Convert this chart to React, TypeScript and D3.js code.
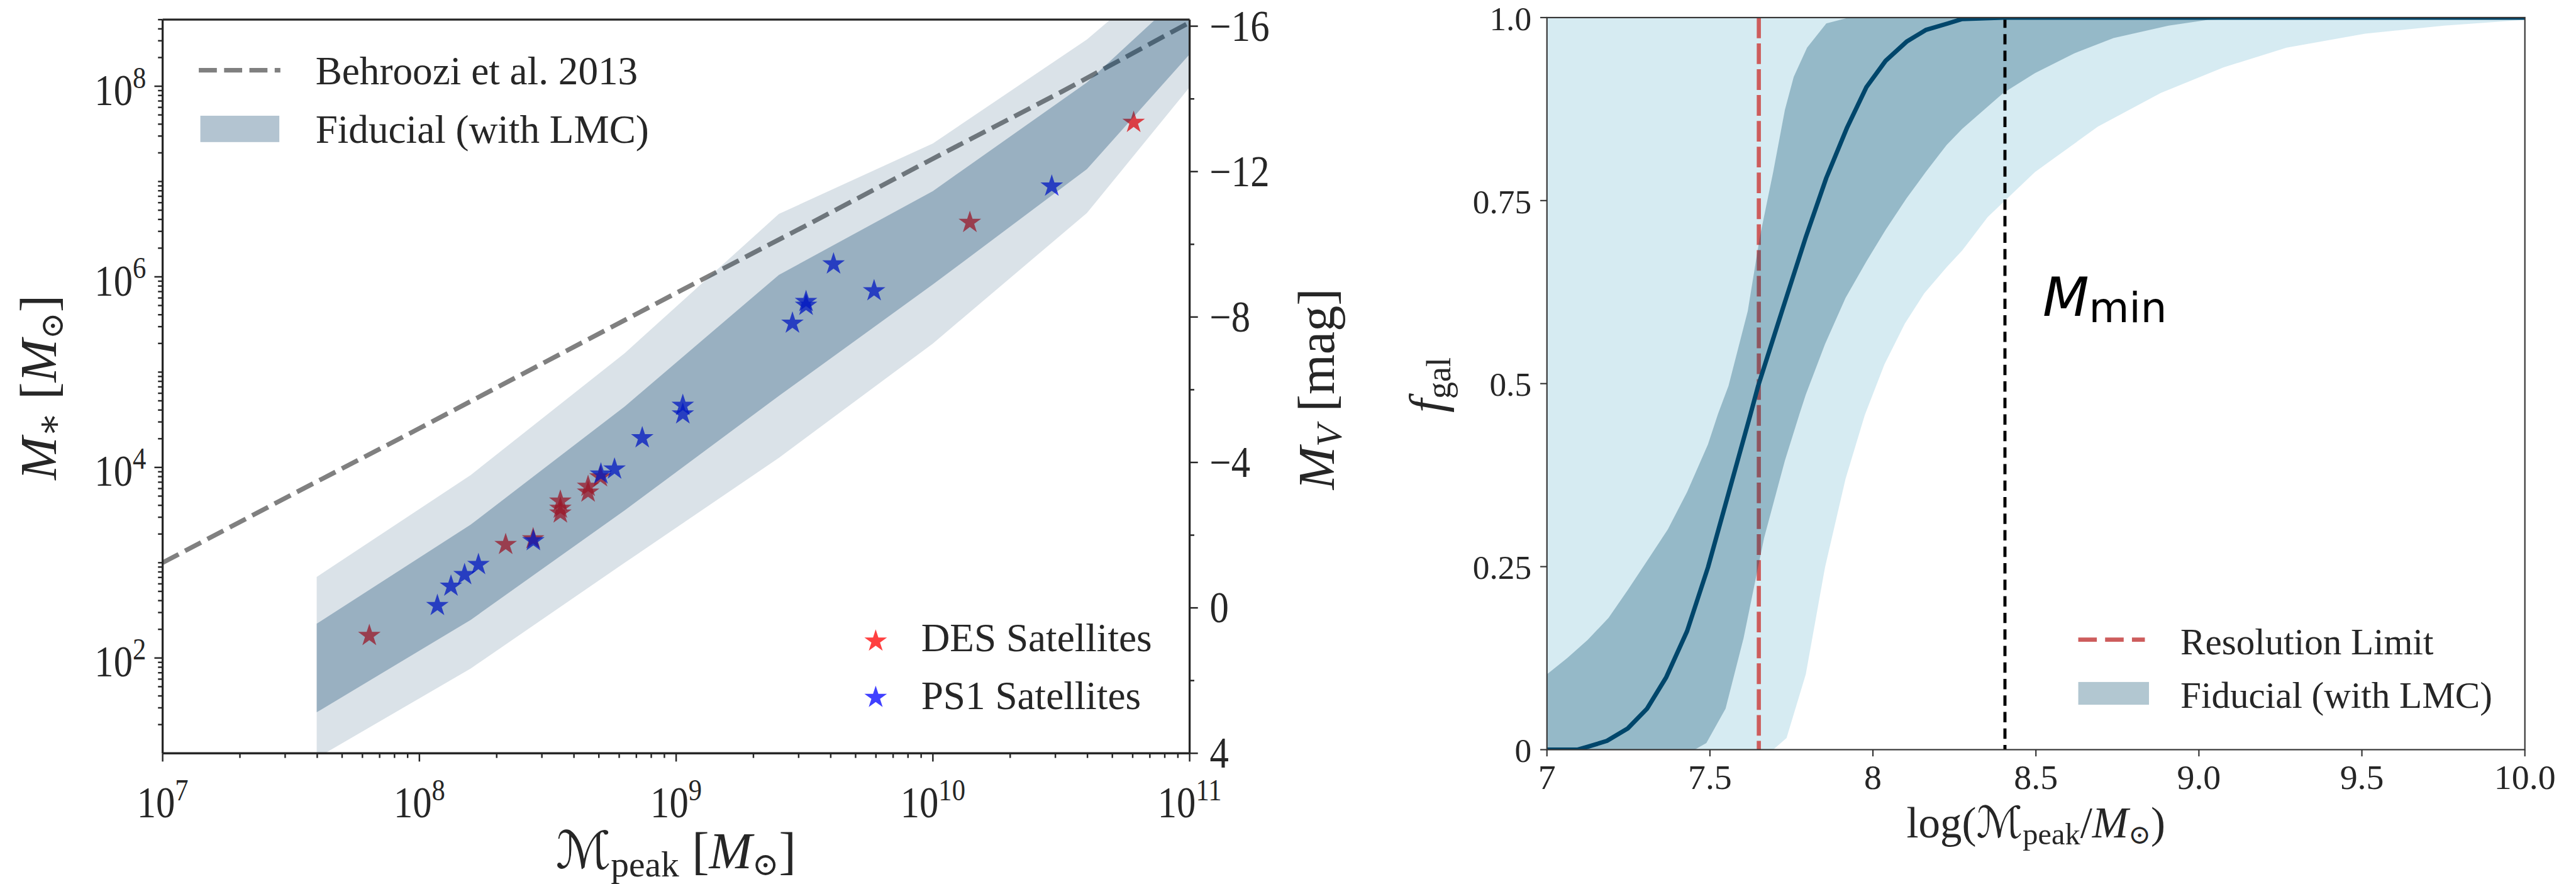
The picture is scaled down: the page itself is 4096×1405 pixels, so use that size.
import React from 'react';
import * as d3 from 'd3';

// ---------------- Left panel data (log10 values) ----------------
const behrooziLogMpeak = [7.0, 7.5, 8.0, 8.5, 9.0, 9.5, 10.0, 10.5, 11.0];
const behrooziLogMstar = [3.0, 3.71, 4.41, 5.12, 5.83, 6.53, 7.24, 7.94, 8.67];

const bandLogMpeak = [7.6, 8.2, 8.8, 9.4, 10.0, 10.6, 11.2];
const outerLogLo = [0.95, 1.89, 3.0, 4.1, 5.3, 6.67, 8.65];
const outerLogHi = [2.85, 3.92, 5.2, 6.66, 7.4, 8.49, 9.87];
const innerLogLo = [1.43, 2.4, 3.55, 4.75, 5.92, 7.13, 8.94];
const innerLogHi = [2.36, 3.4, 4.64, 6.02, 6.9, 8.04, 9.53];

const desLogMpeak = [7.805, 8.336, 8.443, 8.549, 8.549, 8.549, 8.657, 8.657, 8.705, 10.144, 10.782];
const desLogMstar = [2.235, 3.19, 3.25, 3.645, 3.57, 3.52, 3.8, 3.74, 3.9, 6.57, 7.62];
const ps1LogMpeak = [8.07, 8.123, 8.176, 8.23, 8.444, 8.707, 8.76, 8.868, 9.026, 9.026, 9.453, 9.506, 9.506, 9.613, 9.771, 10.463];
const ps1LogMstar = [2.55, 2.753, 2.874, 2.98, 3.23, 3.93, 3.982, 4.31, 4.65, 4.56, 5.513, 5.74, 5.7, 6.134, 5.853, 6.951];

const leftXTickExps = [7, 8, 9, 10, 11];
const leftYTickExps = [2, 4, 6, 8];
const mvTicks = [4, 0, -4, -8, -12, -16];
const mvTickLabels = ['4', '0', '\u22124', '\u22128', '\u221212', '\u221216'];
const mvMinorTicks = [2, -2, -6, -10, -14];

// ---------------- Right panel data ----------------
const meanX = [7.0, 7.093, 7.125, 7.184, 7.248, 7.307, 7.366, 7.43, 7.494, 7.557, 7.625, 7.648, 7.721, 7.794, 7.857, 7.921, 7.98, 8.039, 8.103, 8.162, 8.23, 8.274, 8.4, 10.0];
const meanF = [0, 0, 0.004, 0.012, 0.029, 0.056, 0.099, 0.162, 0.249, 0.35, 0.459, 0.497, 0.599, 0.7, 0.781, 0.85, 0.905, 0.941, 0.967, 0.983, 0.992, 0.998, 1.0, 1.0];

const innerHiX = [7.0, 7.062, 7.125, 7.189, 7.248, 7.312, 7.371, 7.43, 7.494, 7.525, 7.557, 7.616, 7.653, 7.694, 7.73, 7.757, 7.798, 7.857, 7.926];
const innerHiF = [0.103, 0.125, 0.15, 0.18, 0.218, 0.261, 0.301, 0.352, 0.417, 0.459, 0.497, 0.599, 0.7, 0.789, 0.874, 0.919, 0.959, 0.992, 1.0];
const innerLoX = [7.453, 7.489, 7.548, 7.603, 7.666, 7.73, 7.775, 7.794, 7.853, 7.916, 7.98, 8.039, 8.103, 8.162, 8.226, 8.274, 8.4, 8.497, 8.617, 8.738, 8.907, 9.028, 9.269, 10.0];
const innerLoF = [0, 0.009, 0.056, 0.152, 0.289, 0.395, 0.459, 0.485, 0.554, 0.617, 0.667, 0.71, 0.753, 0.789, 0.826, 0.848, 0.897, 0.924, 0.951, 0.972, 0.989, 0.997, 1.0, 1.0];
const outerLoX = [7.694, 7.735, 7.794, 7.853, 7.916, 7.975, 8.035, 8.098, 8.157, 8.226, 8.274, 8.352, 8.497, 8.69, 8.883, 9.076, 9.269, 9.51, 9.752, 10.0];
const outerLoF = [0, 0.016, 0.103, 0.249, 0.37, 0.457, 0.526, 0.582, 0.623, 0.659, 0.682, 0.7275, 0.789, 0.851, 0.897, 0.932, 0.959, 0.978, 0.989, 0.997];

const resolutionLimit = 7.65;
const mMinValue = 8.405;

const rightXTicks = [7, 7.5, 8, 8.5, 9, 9.5, 10];
const rightXLabels = ['7', '7.5', '8', '8.5', '9.0', '9.5', '10.0'];
const rightYTicks = [0, 0.25, 0.5, 0.75, 1];
const rightYLabels = ['0', '0.25', '0.5', '0.75', '1.0'];

const SERIF = "'Liberation Serif', 'DejaVu Serif', serif";
const SYM = "'DejaVu Serif', 'DejaVu Sans', serif";
const SANS = "'DejaVu Sans', sans-serif";
const INK = '#262626';

function starPath(R: number) {
  const r = R * 0.381966;
  const pts: string[] = [];
  for (let i = 0; i < 10; i++) {
    const a = -Math.PI / 2 + (i * Math.PI) / 5;
    const rad = i % 2 === 0 ? R : r;
    pts.push(`${(rad * Math.cos(a)).toFixed(2)},${(rad * Math.sin(a)).toFixed(2)}`);
  }
  return 'M' + pts.join('L') + 'Z';
}

export default function App() {
  // Left panel geometry (reference pixel units; viewBox maps to window)
  const L = { x0: 315, x1: 2304, y0: 38, y1: 1458 };
  const xL = d3.scaleLog().domain([1e7, 1e11]).range([L.x0, L.x1]);
  const yL = d3.scaleLog().domain([10, 5e8]).range([L.y1, L.y0]);
  const yMV = d3.scaleLinear().domain([4, -16.18]).range([L.y1, L.y0]);

  const Rp = { x0: 2996, x1: 4890, y0: 34, y1: 1451 };
  const xR = d3.scaleLinear().domain([7, 10]).range([Rp.x0, Rp.x1]);
  const yR = d3.scaleLinear().domain([0, 1]).range([Rp.y1, Rp.y0]);

  const bandArea = d3
    .area<{ x: number; lo: number; hi: number }>()
    .x((d) => xL(10 ** d.x))
    .y0((d) => yL(10 ** d.lo))
    .y1((d) => yL(10 ** d.hi));
  const outerBand = bandLogMpeak.map((x, i) => ({ x, lo: outerLogLo[i], hi: outerLogHi[i] }));
  const innerBand = bandLogMpeak.map((x, i) => ({ x, lo: innerLogLo[i], hi: innerLogHi[i] }));

  const behrooziLine = d3
    .line<number>()
    .x((d) => xL(10 ** d))
    .y((d, i) => yL(10 ** behrooziLogMstar[i]))(behrooziLogMpeak);

  const star = starPath(23);

  // minor log ticks
  const xMinor: number[] = [];
  for (let k = 7; k < 11; k++) for (let m = 2; m <= 9; m++) xMinor.push(m * 10 ** k);
  const yMinor: number[] = [];
  for (let k = 1; k <= 8; k++) for (let m = 1; m <= 9; m++) {
    const v = m * 10 ** k;
    if (m === 1 && leftYTickExps.includes(k)) continue;
    if (v <= 5e8 && v > 10) yMinor.push(v);
  }

  // right panel polygons
  const lineR = d3.line<[number, number]>().x((p) => xR(p[0])).y((p) => yR(p[1]));
  const lightPoly: [number, number][] = [
    [7, 0], [7, 1], [10, 1],
    ...outerLoX.map((x, i) => [x, outerLoF[i]] as [number, number]).reverse(),
  ];
  const darkPoly: [number, number][] = [
    ...innerHiX.map((x, i) => [x, innerHiF[i]] as [number, number]),
    [10, 1],
    ...innerLoX.map((x, i) => [x, innerLoF[i]] as [number, number]).reverse(),
    [7, 0],
  ];
  const meanPath = lineR(meanX.map((x, i) => [x, meanF[i]] as [number, number]));

  const tickFont = 84;
  const sx = 0.88;

  return (
    <div>
      <style>{`html,body{margin:0;padding:0;background:#fff;} svg{display:block;}`}</style>
      <svg width={4096} height={1405} viewBox="0 0 4989 1711" preserveAspectRatio="none" xmlns="http://www.w3.org/2000/svg">
        <defs>
          <clipPath id="clipL">
            <rect x={L.x0} y={L.y0} width={L.x1 - L.x0} height={L.y1 - L.y0} />
          </clipPath>
          <clipPath id="clipR">
            <rect x={Rp.x0} y={Rp.y0} width={Rp.x1 - Rp.x0} height={Rp.y1 - Rp.y0} />
          </clipPath>
        </defs>
        <rect x={0} y={0} width={4989} height={1711} fill="#fff" />

        {/* ---------------- LEFT PANEL ---------------- */}
        <g clipPath="url(#clipL)">
          <path d={behrooziLine || ''} fill="none" stroke="#808080" strokeWidth={9} strokeDasharray="35,14" />
          {desLogMpeak.map((m, i) => (
            <path key={'des' + i} d={star} transform={`translate(${xL(10 ** m)},${yL(10 ** desLogMstar[i])})`} fill="#ff0000" fillOpacity={0.75} />
          ))}
          {ps1LogMpeak.map((m, i) => (
            <path key={'ps1' + i} d={star} transform={`translate(${xL(10 ** m)},${yL(10 ** ps1LogMstar[i])})`} fill="#0000ff" fillOpacity={0.75} />
          ))}
          <path d={bandArea(outerBand) || ''} fill="#043c67" fillOpacity={0.15} />
          <path d={bandArea(innerBand) || ''} fill="#043c67" fillOpacity={0.3} />
        </g>

        {/* spines */}
        <g stroke={INK} strokeWidth={4} fill="none">
          <line x1={L.x0} y1={L.y0} x2={L.x1} y2={L.y0} />
          <line x1={L.x0} y1={L.y1} x2={L.x1} y2={L.y1} />
          <line x1={L.x0} y1={L.y0} x2={L.x0} y2={L.y1} />
          <line x1={L.x1} y1={L.y0} x2={L.x1} y2={L.y1} />
        </g>
        {/* ticks */}
        <g stroke={INK} strokeWidth={3}>
          {leftXTickExps.map((e) => (
            <line key={'xt' + e} x1={xL(10 ** e)} x2={xL(10 ** e)} y1={L.y1} y2={L.y1 + 16} />
          ))}
          {xMinor.map((v, i) => (
            <line key={'xm' + i} x1={xL(v)} x2={xL(v)} y1={L.y1} y2={L.y1 + 9} />
          ))}
          {leftYTickExps.map((e) => (
            <line key={'yt' + e} x1={L.x0 - 16} x2={L.x0} y1={yL(10 ** e)} y2={yL(10 ** e)} />
          ))}
          {yMinor.map((v, i) => (
            <line key={'ym' + i} x1={L.x0 - 9} x2={L.x0} y1={yL(v)} y2={yL(v)} />
          ))}
          {mvTicks.map((v) => (
            <line key={'mv' + v} x1={L.x1} x2={L.x1 + 16} y1={yMV(v)} y2={yMV(v)} />
          ))}
          {mvMinorTicks.map((v) => (
            <line key={'mvm' + v} x1={L.x1} x2={L.x1 + 9} y1={yMV(v)} y2={yMV(v)} />
          ))}
        </g>
        {/* tick labels */}
        <g fill={INK} fontFamily={SERIF}>
          {leftXTickExps.map((e) => (
            <text key={'xl' + e} transform={`translate(${xL(10 ** e)},1582) scale(${sx},1)`} textAnchor="middle" fontSize={tickFont}>
              <tspan>10</tspan>
              <tspan fontSize={59} dy={-33}>{e}</tspan>
            </text>
          ))}
          {leftYTickExps.map((e) => (
            <text key={'yl' + e} transform={`translate(283,${yL(10 ** e) + 36}) scale(${sx},1)`} textAnchor="end" fontSize={tickFont}>
              <tspan>10</tspan>
              <tspan fontSize={59} dy={-33}>{e}</tspan>
            </text>
          ))}
          {mvTicks.map((v, i) => (
            <text key={'mvl' + v} transform={`translate(2343,${yMV(v) + 28}) scale(${sx},1)`} textAnchor="start" fontSize={tickFont}>
              {mvTickLabels[i]}
            </text>
          ))}
        </g>
        {/* axis labels */}
        <g fill={INK} fontFamily={SERIF}>
          <text transform="translate(108,750) rotate(-90)" textAnchor="middle" fontSize={100}>
            <tspan fontStyle="italic">M</tspan>
            <tspan fontSize={70} dy={10} fontFamily={SYM}>{'\u2217'}</tspan>
            <tspan dy={-10}>{' ['}</tspan>
            <tspan fontStyle="italic">M</tspan>
            <tspan fontSize={62} dy={14} fontFamily={SYM}>{'\u2299'}</tspan>
            <tspan dy={-14}>]</tspan>
          </text>
          <text x={1309} y={1680} textAnchor="middle" fontSize={100}>
            <tspan fontFamily={SYM} fontStyle="italic">{'\u2133'}</tspan>
            <tspan fontSize={70} dy={16}>peak</tspan>
            <tspan dy={-16}>{' ['}</tspan>
            <tspan fontStyle="italic">M</tspan>
            <tspan fontSize={62} dy={14} fontFamily={SYM}>{'\u2299'}</tspan>
            <tspan dy={-14}>]</tspan>
          </text>
          <text transform="translate(2584,753) rotate(-90)" textAnchor="middle" fontSize={100}>
            <tspan fontStyle="italic">M</tspan>
            <tspan fontSize={70} dy={14} fontStyle="italic">V</tspan>
            <tspan dy={-14}>{' [mag]'}</tspan>
          </text>
        </g>
        {/* legends */}
        <g fontFamily={SERIF} fill={INK} fontSize={77}>
          <line x1={385} x2={543} y1={136} y2={136} stroke="#808080" strokeWidth={9} strokeDasharray="35,14" />
          <text x={611} y={163}>Behroozi et al. 2013</text>
          <rect x={388} y={224} width={153} height={51} fill="#043c67" fillOpacity={0.3} />
          <text x={611} y={277}>Fiducial (with LMC)</text>
          <path d={star} transform="translate(1696,1241)" fill="#ff0000" fillOpacity={0.75} />
          <text x={1784} y={1261}>DES Satellites</text>
          <path d={star} transform="translate(1696,1350)" fill="#0000ff" fillOpacity={0.75} />
          <text x={1784} y={1372}>PS1 Satellites</text>
        </g>

        {/* ---------------- RIGHT PANEL ---------------- */}
        <g clipPath="url(#clipR)">
          <path d={(lineR(lightPoly) || '') + 'Z'} fill="#add8e6" fillOpacity={0.5} />
          <line x1={xR(resolutionLimit)} x2={xR(resolutionLimit)} y1={Rp.y0} y2={Rp.y1} stroke="#cd5c5c" strokeWidth={8} strokeDasharray="40,10" />
          <path d={(lineR(darkPoly) || '') + 'Z'} fill="#004466" fillOpacity={0.3} />
          <line x1={xR(mMinValue)} x2={xR(mMinValue)} y1={Rp.y0} y2={Rp.y1} stroke="#000" strokeWidth={6} strokeDasharray="20,12" />
          <path d={meanPath || ''} fill="none" stroke="#00466b" strokeWidth={8.5} strokeLinejoin="round" />
        </g>
        <rect x={Rp.x0} y={Rp.y0} width={Rp.x1 - Rp.x0} height={Rp.y1 - Rp.y0} fill="none" stroke="#333" strokeWidth={2.6} />
        <g stroke="#333" strokeWidth={2.6}>
          {rightXTicks.map((v) => (
            <line key={'rxt' + v} x1={xR(v)} x2={xR(v)} y1={Rp.y1} y2={Rp.y1 + 13} />
          ))}
          {rightYTicks.map((v) => (
            <line key={'ryt' + v} x1={Rp.x0 - 13} x2={Rp.x0} y1={yR(v)} y2={yR(v)} />
          ))}
        </g>
        <g fill={INK} fontFamily={SERIF}>
          {rightXTicks.map((v, i) => (
            <text key={'rxl' + v} x={xR(v)} y={1527} textAnchor="middle" fontSize={68}>
              {rightXLabels[i]}
            </text>
          ))}
          {rightYTicks.map((v, i) => (
            <text key={'ryl' + v} x={2966} y={yR(v) + 24} textAnchor="end" fontSize={65}>
              {rightYLabels[i]}
            </text>
          ))}
          <text x={3943} y={1621} textAnchor="middle" fontSize={84}>
            <tspan>log(</tspan>
            <tspan fontFamily={SYM} fontStyle="italic">{'\u2133'}</tspan>
            <tspan fontSize={59} dy={13}>peak</tspan>
            <tspan dy={-13}>/</tspan>
            <tspan fontStyle="italic">M</tspan>
            <tspan fontSize={52} dy={12} fontFamily={SYM}>{'\u2299'}</tspan>
            <tspan dy={-12}>)</tspan>
          </text>
          <text transform="translate(2795,745) rotate(-90)" textAnchor="middle" fontSize={95}>
            <tspan fontStyle="italic">f</tspan>
            <tspan fontSize={66} dy={14}>gal</tspan>
          </text>
        </g>
        <text x={3956} y={611} fontFamily={SANS} fill="#000" fontSize={104}>
          <tspan fontStyle="italic">M</tspan>
          <tspan fontSize={80} dy={12}>min</tspan>
        </text>
        <g fontFamily={SERIF} fill={INK} fontSize={72}>
          <line x1={4025} x2={4154} y1={1238} y2={1238} stroke="#cd5c5c" strokeWidth={8} strokeDasharray="36,16" />
          <text x={4223} y={1266}>Resolution Limit</text>
          <rect x={4025} y={1320} width={137} height={44} fill="#004466" fillOpacity={0.3} />
          <text x={4223} y={1370}>Fiducial (with LMC)</text>
        </g>
      </svg>
    </div>
  );
}
